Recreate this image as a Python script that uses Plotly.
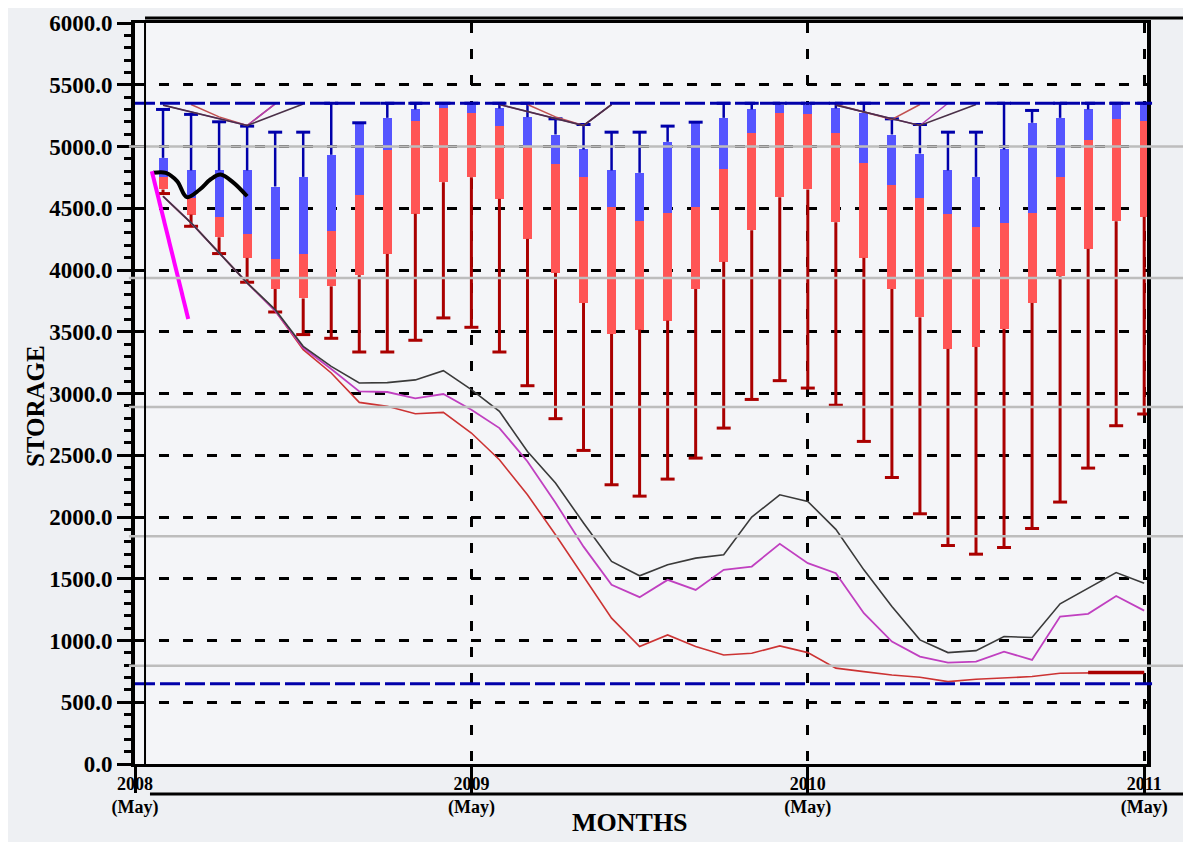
import plotly.graph_objects as go

# ---------------- data ----------------
months = list(range(1, 37))  # months after May 2008

box_max = [5300, 5260, 5200, 5165, 5116, 5116, 5350, 5192, 5350, 5350, 5350, 5350,
           5350, 5350, 5224, 5178, 5116, 5116, 5165, 5197, 5350, 5350, 5350, 5350,
           5350, 5350, 5224, 5178, 5116, 5116, 5350, 5292, 5350, 5350, 5350, 5350]
box_q3 = [4908, 4806, 4806, 4806, 4676, 4754, 4933, 5192, 5232, 5300, 5340, 5340,
          5308, 5238, 5097, 4976, 4806, 4787, 5038, 5192, 5232, 5300, 5340, 5340,
          5308, 5273, 5097, 4943, 4806, 4754, 4976, 5192, 5232, 5300, 5340, 5340]
box_med = [4751, 4579, 4433, 4295, 4092, 4133, 4319, 4611, 4968, 5205, 5308, 5268,
           5162, 5003, 4855, 4751, 4511, 4400, 4463, 4511, 4819, 5111, 5268, 5260,
           5111, 4868, 4692, 4579, 4457, 4352, 4384, 4463, 4754, 5049, 5224, 5203]
box_q1 = [4652, 4449, 4265, 4098, 3846, 3770, 3868, 3958, 4130, 4455, 4711, 4751,
          4576, 4252, 3977, 3733, 3482, 3517, 3590, 3846, 4066, 4322, 4589, 4652,
          4387, 4098, 3846, 3617, 3361, 3377, 3523, 3733, 3949, 4171, 4395, 4430]
box_min = [4619, 4354, 4133, 3901, 3660, 3477, 3447, 3336, 3336, 3431, 3612, 3536,
           3336, 3063, 2796, 2539, 2261, 2169, 2307, 2477, 2720, 2952, 3104, 3044,
           2905, 2612, 2320, 2026, 1769, 1699, 1753, 1907, 2121, 2396, 2739, 2834]

line_black = [4597, 4382, 4139, 3896, 3679, 3382, 3220, 3085, 3088, 3110, 3185, 3031,
              2855, 2531, 2275, 1951, 1640, 1524, 1613, 1667, 1694, 1999, 2180, 2126,
              1900, 1572, 1275, 1005, 902, 918, 1032, 1024, 1297, 1424, 1550, 1464]
line_magenta = [4597, 4382, 4139, 3896, 3670, 3370, 3198, 3017, 3012, 2960, 2996, 2869,
                2720, 2450, 2115, 1760, 1451, 1351, 1491, 1410, 1572, 1599, 1783, 1626,
                1545, 1221, 991, 870, 821, 829, 910, 843, 1194, 1216, 1361, 1242]
line_red = [4597, 4382, 4139, 3896, 3670, 3355, 3166, 2928, 2896, 2836, 2847, 2680,
            2464, 2180, 1856, 1518, 1181, 951, 1045, 951, 883, 897, 956, 902,
            776, 748, 721, 703, 667, 686, 694, 708, 735, 740, 740, 740]

obs_x = [0.65, 1.1, 1.5, 1.85, 2.3, 2.7, 3.05, 3.5, 4.0]
obs_y = [4787, 4787, 4720, 4590, 4650, 4735, 4773, 4710, 4597]
fcst_x = [0.6, 1.9]
fcst_y = [4800, 3604]

top_black_x = [1, 2, 3, 4, 5, 6, None, 13, 14, 15, 16, 17, None, 25, 26, 27, 28, 29, 30]
top_black_y = [5335, 5280, 5225, 5170, 5257, 5345, None, 5340, 5283, 5227, 5170, 5340, None,
               5335, 5280, 5225, 5170, 5255, 5340]
top_mag_x = [1, 2, 3, 4, 5, None, 13, 14, 15, 16, 17, None, 25, 26, 27, 28, 29]
top_mag_y = [5335, 5280, 5225, 5170, 5345, None, 5340, 5283, 5227, 5170, 5340, None,
             5335, 5280, 5225, 5170, 5350]
top_red_x = [2, 3, 4, 5, None, 14, 15, 16, 17, None, 25, 26, 27, 28]
top_red_y = [5340, 5240, 5170, 5345, None, 5340, 5240, 5170, 5340, None, 5340, 5280, 5220, 5340]

ref_levels = [5350, 650]
band_levels = [5000, 3935, 2890, 1845, 795]

x_tickvals = [0, 12, 24, 36]
x_ticktext = ["2008<br>(May)", "2009<br>(May)", "2010<br>(May)", "2011<br>(May)"]

# ---------------- figure ----------------
SERIF = "Liberation Serif"
fig = go.Figure()

fig.add_trace(go.Bar(x=months, y=[a - b for a, b in zip(box_q3, box_med)], base=box_med,
                     width=0.32, marker=dict(color="#5555FF", line=dict(width=0)),
                     showlegend=False, hoverinfo="skip"))
fig.add_trace(go.Bar(x=months, y=[a - b for a, b in zip(box_med, box_q1)], base=box_q1,
                     width=0.32, marker=dict(color="#FF5555", line=dict(width=0)),
                     showlegend=False, hoverinfo="skip"))

# whiskers
ux, uy, lx, ly = [], [], [], []
for m, mx, q3, q1, mn in zip(months, box_max, box_q3, box_q1, box_min):
    ux += [m, m, None]
    uy += [q3, mx, None]
    lx += [m, m, None]
    ly += [q1, mn, None]
fig.add_trace(go.Scatter(x=ux, y=uy, mode="lines", line=dict(color="#0000AA", width=2.5),
                         showlegend=False, hoverinfo="skip"))
fig.add_trace(go.Scatter(x=lx, y=ly, mode="lines", line=dict(color="#AA0000", width=3),
                         showlegend=False, hoverinfo="skip"))
fig.add_trace(go.Scatter(x=months, y=box_max, mode="markers",
                         marker=dict(symbol="line-ew", size=10, line=dict(width=3, color="#0000AA")),
                         showlegend=False, hoverinfo="skip"))
fig.add_trace(go.Scatter(x=months, y=box_min, mode="markers",
                         marker=dict(symbol="line-ew", size=10, line=dict(width=3, color="#AA0000")),
                         showlegend=False, hoverinfo="skip"))

# trajectories
fig.add_trace(go.Scatter(x=months, y=line_red, mode="lines", line=dict(color="#CC3333", width=1.6),
                         showlegend=False))
fig.add_trace(go.Scatter(x=months[33:], y=line_red[33:], mode="lines",
                         line=dict(color="#AA0000", width=3.5), showlegend=False))
fig.add_trace(go.Scatter(x=months, y=line_magenta, mode="lines", line=dict(color="#C040C0", width=1.8),
                         showlegend=False))
fig.add_trace(go.Scatter(x=months, y=line_black, mode="lines", line=dict(color="#3A3A3A", width=1.6),
                         showlegend=False))
fig.add_trace(go.Scatter(x=top_red_x, y=top_red_y, mode="lines", line=dict(color="#C05050", width=1.5),
                         showlegend=False, connectgaps=False))
fig.add_trace(go.Scatter(x=top_mag_x, y=top_mag_y, mode="lines", line=dict(color="#B040B0", width=1.5),
                         showlegend=False, connectgaps=False))
fig.add_trace(go.Scatter(x=top_black_x, y=top_black_y, mode="lines", line=dict(color="#4A3048", width=1.6),
                         showlegend=False, connectgaps=False))
fig.add_trace(go.Scatter(x=obs_x, y=obs_y, mode="lines", line=dict(color="black", width=4, shape="spline"),
                         showlegend=False))
fig.add_trace(go.Scatter(x=fcst_x, y=fcst_y, mode="lines", line=dict(color="#FF00FF", width=4),
                         showlegend=False))

shapes = []
for lv in band_levels:
    shapes.append(dict(type="line", xref="paper", yref="y", x0=-0.006, x1=1.05, y0=lv, y1=lv,
                       line=dict(color="#BDBDBD", width=2.5), layer="above"))
for lv in ref_levels:
    shapes.append(dict(type="line", xref="paper", yref="y", x0=0.0, x1=1.005, y0=lv, y1=lv,
                       line=dict(color="#0000AA", width=3, dash="20px,5px"), layer="above"))
# double-frame artefacts
shapes.append(dict(type="line", xref="paper", yref="paper", x0=0.0099, x1=0.0099, y0=0, y1=1,
                   line=dict(color="black", width=2), layer="above"))
shapes.append(dict(type="line", xref="paper", yref="paper", x0=0.0099, x1=1.05, y0=1.0067, y1=1.0067,
                   line=dict(color="black", width=3), layer="above"))
shapes.append(dict(type="line", xref="paper", yref="paper", x0=0.0148, x1=1.05, y0=-0.0405, y1=-0.0405,
                   line=dict(color="black", width=3), layer="above"))

fig.update_layout(
    width=1191, height=842,
    margin=dict(l=127, r=52, t=15, b=86),
    paper_bgcolor="#EEF0F3", plot_bgcolor="#F4F5F8",
    barmode="overlay", bargap=0,
    shapes=shapes,
    font=dict(family=SERIF, color="black"),
    annotations=[
        dict(text="<b>STORAGE</b>", xref="paper", yref="paper", x=-0.0988, y=0.483,
             textangle=-90, showarrow=False, font=dict(family=SERIF, size=25, color="black"),
             xanchor="center", yanchor="middle"),
        dict(text="<b>MONTHS</b>", xref="paper", yref="paper", x=0.489, y=-0.0783,
             showarrow=False, font=dict(family=SERIF, size=26, color="black"),
             xanchor="center", yanchor="middle"),
    ],
)
fig.update_xaxes(
    range=[0, 36.1], tickmode="array", tickvals=x_tickvals, ticktext=x_ticktext,
    showgrid=True, gridcolor="black", gridwidth=3, griddash="10px,16px",
    showline=True, linecolor="black", linewidth=3, mirror=True,
    ticks="outside", ticklen=26, tickwidth=3, tickcolor="black",
    ticklabelstandoff=-25,
    tickfont=dict(family=SERIF, size=18, color="black", weight="bold"),
    zeroline=False, automargin=False,
)
fig.update_yaxes(
    range=[0, 6000], dtick=500, tick0=0, tickformat=".1f",
    showgrid=True, gridcolor="black", gridwidth=2.5, griddash="10px,14px",
    showline=True, linecolor="black", linewidth=4, mirror=True,
    ticks="outside", ticklen=14, tickwidth=3, tickcolor="black",
    minor=dict(dtick=100, ticks="outside", ticklen=7, tickwidth=3, tickcolor="black", showgrid=False),
    tickfont=dict(family=SERIF, size=23, color="black", weight="bold"),
    zeroline=False, automargin=False,
)

fig.write_html("out.html")
